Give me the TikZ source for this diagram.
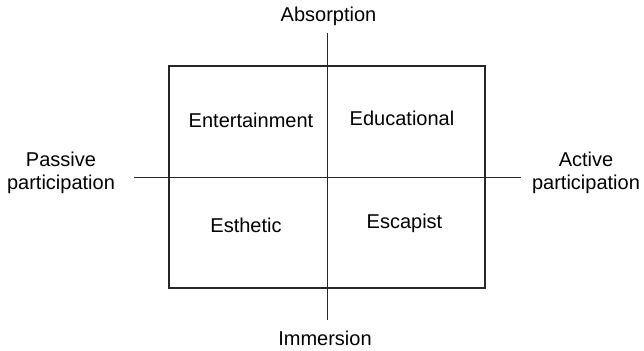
\documentclass[tikz,border=0pt]{standalone}
\usepackage{fontspec}
\setmainfont{Liberation Sans}
\begin{document}
\begin{tikzpicture}[x=0.5pt,y=-0.5pt,
  axis/.style={line width=0.75pt, draw=black!85},
  lbl/.style={font=\fontsize{10}{11.5}\selectfont, inner sep=0pt, anchor=base, align=center}]
\useasboundingbox (0,0) rectangle (644,351);
\draw[axis] (169,66) rectangle (485,288);
\coordinate (top) at (327.5,33);
\coordinate (bot) at (327.5,320);
\coordinate (left) at (134,177.5);
\coordinate (right) at (521,177.5);
\draw[axis] (top) -- (bot);
\draw[axis] (left) -- (right);
\node[lbl] (abs) at (328.5,22) {Absorption};
\node[lbl] (imm) at (325,346) {Immersion};
\node[lbl] (pas) at (61,190) {Passive\\participation};
\node[lbl] (act) at (586,190) {Active\\participation};
\node[lbl] (ent) at (251,128) {Entertainment};
\node[lbl] (edu) at (402,126) {Educational};
\node[lbl] (est) at (246,233) {Esthetic};
\node[lbl] (esc) at (404.5,229) {Escapist};
\end{tikzpicture}
\end{document}
